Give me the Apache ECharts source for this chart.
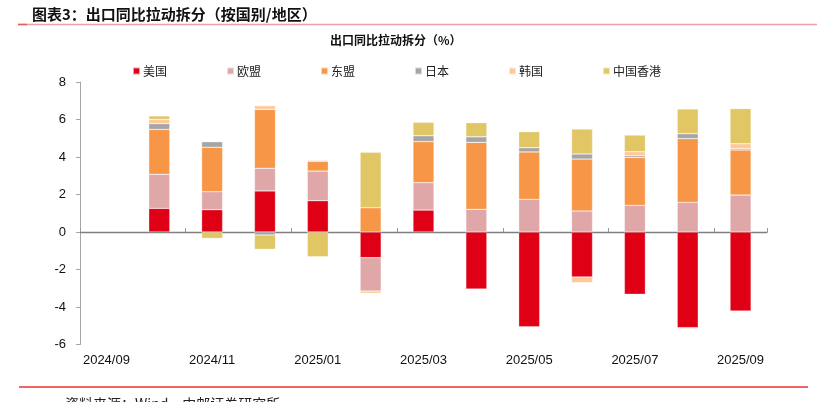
<!DOCTYPE html>
<html>
<head>
<meta charset="utf-8">
<script src="https://cdn.jsdelivr.net/npm/echarts@6/dist/echarts.min.js"></script>
<style>html,body{margin:0;padding:0;background:#fff}#c{width:817px;height:402px}</style>
</head>
<body>
<div id="c"></div>
<script>
const categories = ['2024/09','2024/10','2024/11','2024/12','2025/01','2025/02','2025/03','2025/04','2025/05','2025/06','2025/07','2025/08','2025/09'];
const us    = ['-', 1.26, 1.19, 2.19, 1.67, -1.37, 1.17, -3.04, -5.05, -2.40, -3.32, -5.10, -4.21];
const eu    = ['-', 1.82, 0.96, 1.21, 1.58, -1.78, 1.46, 1.21, 1.74, 1.12, 1.42, 1.58, 1.97];
const asean = ['-', 2.39, 2.37, 3.14, 0.52, 1.30, 2.19, 3.57, 2.53, 2.77, 2.56, 3.40, 2.40];
const japan = ['-', 0.31, 0.30, -0.16, 0.05, 0, 0.32, 0.30, 0.23, 0.27, 0.09, 0.26, 0.07];
const korea = ['-', 0.23, 0, 0.20, 0, -0.12, 0, 0, 0, -0.30, 0.21, -0.05, 0.27];
const hk    = ['-', 0.18, -0.34, -0.76, -1.32, 2.95, 0.71, 0.75, 0.85, 1.33, 0.89, 1.32, 1.87];
const seriesNames = ['美国','欧盟','东盟','日本','韩国','中国香港'];
const yTicks = {min: -6, max: 8, interval: 2};

const colors = ['#E00015','#DFA7A7','#F79646','#A5A5A5','#FDC999','#E0C664'];
const dataSets = [us, eu, asean, japan, korea, hk];

const chart = echarts.init(document.getElementById('c'));
const font = '"Liberation Sans", Arial, sans-serif';
const cjk = '"Noto Sans CJK SC", sans-serif';

chart.setOption({
  animation: false,
  color: colors,
  textStyle: {fontFamily: font},
  title: [
    {text: '图表3：出口同比拉动拆分（按国别/地区）', left: 27, top: 2,
     textStyle: {fontFamily: cjk, fontSize: 15, fontWeight: 'bold', color: '#111'}},
    {text: '出口同比拉动拆分（%）', left: 325, top: 29,
     textStyle: {fontFamily: cjk, fontSize: 12, fontWeight: 'bold', color: '#111'}},
    {text: '资料来源：Wind，中邮证券研究所', left: 60, top: 392,
     textStyle: {fontFamily: cjk, fontSize: 14, fontWeight: 'normal', color: '#222'}}
  ],
  graphic: [
    {type: 'line', shape: {x1: 18, y1: 24.5, x2: 817, y2: 24.5}, style: {stroke: '#E9A3A3', lineWidth: 1.5}},
    {type: 'line', shape: {x1: 18, y1: 24.5, x2: 27, y2: 24.5}, style: {stroke: '#D96060', lineWidth: 1.5}},
    {type: 'line', shape: {x1: 19, y1: 387, x2: 808, y2: 387}, style: {stroke: '#E8332E', lineWidth: 1.6}}
  ],
  legend: {
    data: seriesNames, left: 127, top: 60, icon: 'rect', itemWidth: 7, itemHeight: 7,
    itemGap: 59, textStyle: {fontFamily: cjk, fontSize: 12, color: '#222', padding: [0,0,0,-2]}
  },
  grid: {left: 80, right: 50, top: 82, bottom: 57.5},
  xAxis: [
    {type: 'category', data: categories, position: 'bottom',
     axisLine: {show: false, onZero: false}, axisTick: {show: false},
     axisLabel: {interval: 1, margin: 9, fontSize: 13, color: '#111', fontFamily: font}},
    {type: 'category', data: categories, position: 'bottom',
     axisLine: {show: true, onZero: true, lineStyle: {color: '#7f7f7f', width: 1.3}},
     axisTick: {show: true, inside: true, interval: 1, length: 4, lineStyle: {color: '#999'}},
     axisLabel: {show: false}}
  ],
  yAxis: {
    type: 'value', min: yTicks.min, max: yTicks.max, interval: yTicks.interval,
    axisLine: {show: true, lineStyle: {color: '#a6a6a6'}},
    axisTick: {show: true, length: 4, lineStyle: {color: '#a6a6a6'}},
    splitLine: {show: false},
    axisLabel: {fontSize: 13, color: '#111', margin: 14, fontFamily: font}
  },
  series: seriesNames.map((n, i) => ({
    name: n, type: 'bar', stack: 'total', xAxisIndex: 0, barWidth: 21,
    data: dataSets[i],
    itemStyle: {color: colors[i], borderColor: 'rgba(255,255,255,0.6)', borderWidth: 0.5}
  }))
});
</script>
</body>
</html>
